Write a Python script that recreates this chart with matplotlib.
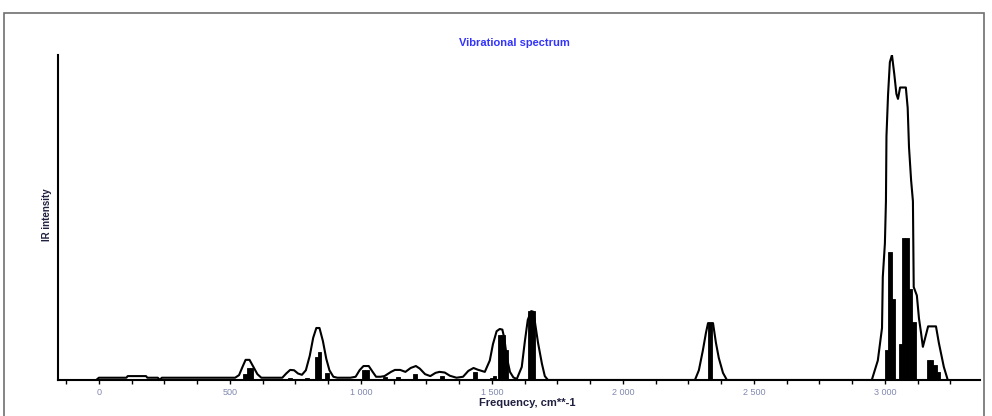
import matplotlib
matplotlib.use("Agg")
import matplotlib.pyplot as plt
from matplotlib.patches import Rectangle
from matplotlib.ticker import FixedLocator, FuncFormatter

plt.rcParams["font.family"] = ["Liberation Sans", "DejaVu Sans"]

# envelope of the spectrum (frequency cm-1, relative intensity)
env_freq = [-10, 0, 105, 110, 180, 185, 225, 233, 240, 520, 535, 548, 560, 575, 590, 605, 620,
            700, 715, 730, 745, 760, 775, 790, 805, 818, 830, 842, 855, 868, 880, 895, 910,
            960, 980, 995, 1010, 1030, 1045, 1058, 1075, 1090, 1115, 1130, 1150, 1170, 1190,
            1210, 1225, 1245, 1265, 1285, 1300, 1320, 1340, 1365, 1390, 1410, 1430, 1445,
            1473, 1492, 1504, 1518, 1530, 1540, 1547, 1557, 1569, 1582, 1595, 1614, 1626,
            1637, 1650, 1658, 1664, 1676, 1691, 1702, 1714,
            2275, 2290, 2305, 2317, 2325, 2344, 2355, 2366, 2382, 2397,
            2950, 2973, 2989, 2992, 3000, 3004, 3006, 3012, 3019, 3027, 3036, 3044, 3050,
            3058, 3080, 3087, 3092, 3100, 3107, 3110, 3122, 3130, 3138, 3145, 3165, 3195,
            3206, 3225, 3240]
env_int = [0, 0.7, 0.7, 1.2, 1.2, 0.7, 0.7, 0, 0.7, 0.7, 1.5, 4, 6.2, 6.2, 4, 1.8, 0.7,
           0.7, 2, 3.1, 3.0, 2.0, 1.6, 3, 7.5, 13, 16, 16, 12, 6.5, 3, 1, 0.7,
           0.7, 1, 3, 4.3, 4.3, 2.5, 1, 1.0, 1.2, 2.5, 3.1, 3.1, 2.5, 3.7,
           4.3, 3.5, 1.8, 1.2, 2.2, 2.5, 2.3, 1.3, 0.7, 1.0, 2.8, 3.7, 3.2,
           2.5, 6, 11, 15, 15.7, 15.5, 13, 7, 2.5, 0.8, 0.3, 4, 12,
           18.5, 21.2, 21, 18, 11.5, 5, 1.2, 0,
           0, 3, 9, 14.5, 17.5, 17.5, 11.5, 6.8, 2.2, 0,
           0, 6, 16, 31.7, 42, 55, 75, 87.7, 97.8, 100, 94, 88, 86.5,
           90, 90, 83.7, 71.7, 61.5, 55, 28.6, 26, 19, 14.5, 10.2, 16.5, 16.5,
           11.4, 4, 0]

# individual modes (sticks)
stick_freq = [557, 570, 583, 730, 794, 830, 843, 870, 1010, 1023, 1092, 1141, 1206,
              1309, 1435, 1500, 1511, 1530, 1543, 1556, 1646, 1659, 2332,
              3006, 3019, 3032, 3059, 3072, 3085, 3098, 3111, 3166, 3179, 3192, 3205]
stick_int = [2, 3.7, 3.7, 0.6, 0.5, 7, 8.6, 2.2, 3.1, 3.1, 1, 0.9, 1.8,
             1.2, 2.5, 0.6, 1.2, 13.8, 13.8, 9.2, 21.2, 21.2, 17.5,
             9.2, 39.4, 25, 11, 43.7, 43.7, 28, 18, 6.2, 6.2, 4.6, 2.5]

fig = plt.figure(figsize=(9.92, 4.16), dpi=100)
ax = fig.add_axes([58 / 992, 1 - 380 / 416, 922 / 992, 325 / 416])

ax.bar(stick_freq, stick_int, width=13, color="black", edgecolor="black", linewidth=0.6)
ax.plot(env_freq, env_int, color="black", lw=1.5)

ax.set_xlim(-156, 3363)
ax.set_ylim(0, 100)
ax.spines["top"].set_visible(False)
ax.spines["right"].set_visible(False)
ax.spines["left"].set_linewidth(1.5)
ax.spines["bottom"].set_linewidth(1.5)
ax.set_yticks([])

ticks = [t * 125 for t in range(-1, 27)]
ax.xaxis.set_major_locator(FixedLocator(ticks))
ax.xaxis.set_major_formatter(FuncFormatter(
    lambda v, p: ("{:,}".format(int(v)).replace(",", " ") if v % 500 == 0 and v >= 0 else "")))
ax.tick_params(axis="x", length=3, width=1, direction="out", labelsize=6.5,
               labelcolor="#8088b0", pad=3)

fig.text(514 / 992, 1 - 43 / 416, "Vibrational spectrum", color="#3333ff",
         fontsize=8, fontweight="bold", ha="center", va="center")
fig.text(527 / 992, 1 - 403 / 416, "Frequency, cm**-1", color="#202040",
         fontsize=8, fontweight="bold", ha="center", va="center")
fig.text(47 / 992, 1 - 215 / 416, "IR intensity", color="#202040", rotation=90,
         fontsize=7, fontweight="bold", ha="center", va="center")

fig.patches.append(Rectangle((4 / 992, -0.1), 980 / 992, 1.1 - 13 / 416,
                             transform=fig.transFigure, fill=False,
                             edgecolor="#707070", lw=1.2))

fig.savefig("out.png", dpi=100)
